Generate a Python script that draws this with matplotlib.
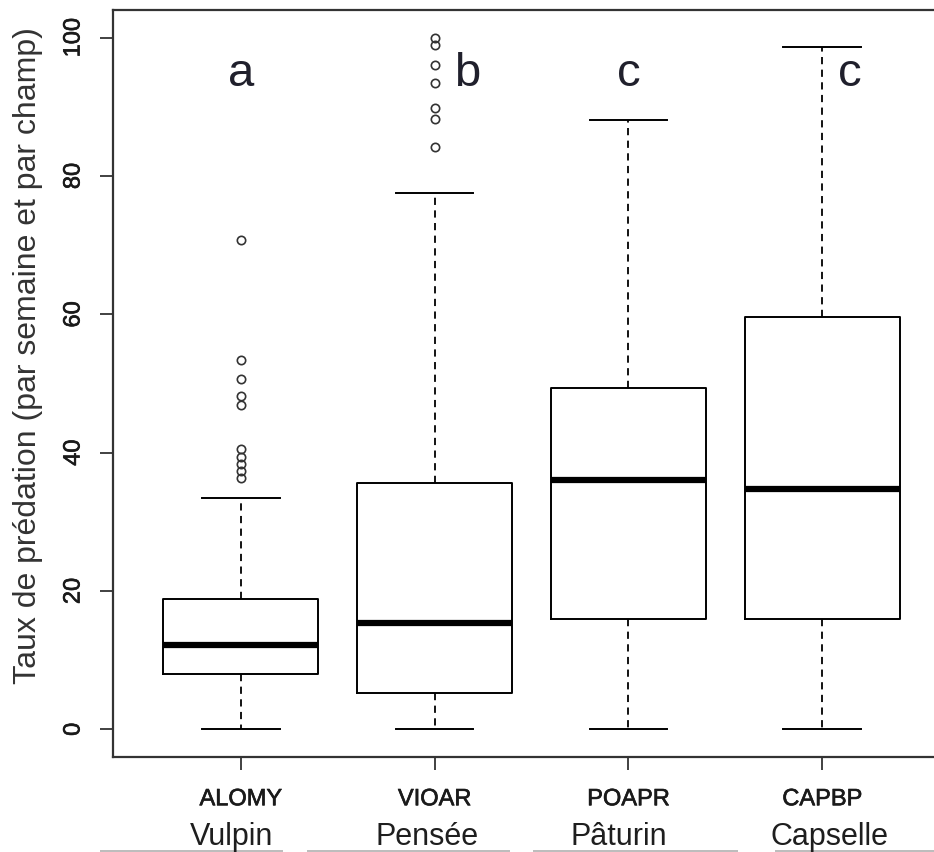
import matplotlib
matplotlib.use("Agg")
import matplotlib.pyplot as plt
import matplotlib.patheffects as pe
from matplotlib.patches import Rectangle

# =====================================================
# DATA
# =====================================================

codes = ["ALOMY", "VIOAR", "POAPR", "CAPBP"]
names = ["Vulpin", "Pensée", "Pâturin", "Capselle"]
letters = ["a", "b", "c", "c"]

whis_low = [0, 0, 0, 0]
q1 = [8.0, 5.2, 16.0, 16.0]
median = [12.2, 15.4, 36.1, 34.7]
q3 = [18.8, 35.6, 49.3, 59.6]
whis_high = [33.4, 77.5, 88.1, 98.6]

outliers = [
    [36.3, 37.3, 38.3, 39.4, 40.5, 46.9, 48.2, 50.7, 53.4, 70.7],
    [84.2, 88.3, 89.8, 93.4, 96.1, 99.0, 100.0],
    [],
    [],
]

# =====================================================
# LAYOUT
# =====================================================

W, H = 934, 852
positions = [1, 2, 3, 4]
letter_dx = [0.0, 0.17, 0.0, 0.145]
name_dx = [-0.05, -0.04, -0.05, 0.04]
strips = [(100, 283), (307, 510), (533, 738), (775, 934)]
font = ["Liberation Sans", "DejaVu Sans"]

fig = plt.figure(figsize=(W / 100, H / 100), dpi=100)
fig.patch.set_facecolor("white")

ax = fig.add_axes([113 / W, 1 - 757 / H, 837 / W, 747 / H])

stats = []
for i in range(len(codes)):
    stats.append(dict(
        med=median[i],
        q1=q1[i],
        q3=q3[i],
        whislo=whis_low[i],
        whishi=whis_high[i],
        fliers=outliers[i],
    ))

ax.bxp(
    stats,
    positions=positions,
    widths=0.8,
    capwidths=0.4,
    patch_artist=False,
    boxprops=dict(color="black", linewidth=1.4),
    medianprops=dict(color="black", linewidth=4.5, solid_capstyle="butt"),
    whiskerprops=dict(color="black", linewidth=1.3, linestyle=(0, (4, 3))),
    capprops=dict(color="black", linewidth=1.4),
    flierprops=dict(marker="o", markersize=6, markerfacecolor="none",
                    markeredgecolor="#333333", markeredgewidth=1.2),
)

ax.set_xlim(0.34, 4.66)
ax.set_ylim(-4, 104)

# =====================================================
# AXES STYLE
# =====================================================

for side in ["left", "bottom", "top"]:
    ax.spines[side].set_linewidth(1.6)
    ax.spines[side].set_color("#333333")
ax.spines["right"].set_visible(False)

ax.set_yticks([0, 20, 40, 60, 80, 100])
ax.set_xticks(positions)
ax.set_xticklabels(codes)

ax.tick_params(axis="both", length=9.5, width=1.3, color="#333333",
               labelsize=17, labelcolor="#1a1a1a")
ax.tick_params(axis="y", labelrotation=90, pad=11)
ax.tick_params(axis="x", pad=13)
heavy = [pe.withStroke(linewidth=0.45, foreground="#1a1a1a")]
for lab in ax.get_yticklabels() + ax.get_xticklabels():
    lab.set_family(font)
    lab.set_path_effects(heavy)
for lab in ax.get_yticklabels():
    lab.set_verticalalignment("center")

ax.set_ylabel("Taux de prédation (par semaine et par champ)",
              fontsize=23, family=font, color="#333333")
ax.yaxis.set_label_coords(-(113 - 28) / 837, (757 - 356) / 747)
ax.yaxis.label.set_verticalalignment("center")

# letters of significance
for i in range(len(letters)):
    ax.text(positions[i] + letter_dx[i], 93.0, letters[i],
            fontsize=34, ha="center", va="baseline", color="#20202c",
            family=font)

# french names under the codes
for i in range(len(names)):
    xd = positions[i] + name_dx[i]
    xf = fig.transFigure.inverted().transform(ax.transData.transform((xd, 0)))[0]
    fig.text(xf, 1 - 845 / H, names[i], fontsize=22, ha="center",
             va="baseline", color="#1e1e1e", family=font)

# thin grey strips at the very bottom
for x0, x1 in strips:
    fig.patches.append(Rectangle((x0 / W, 0), (x1 - x0) / W, 2.5 / H,
                                 transform=fig.transFigure,
                                 facecolor="#bdbdbd", edgecolor="none"))

fig.savefig("out.png", dpi=100)
